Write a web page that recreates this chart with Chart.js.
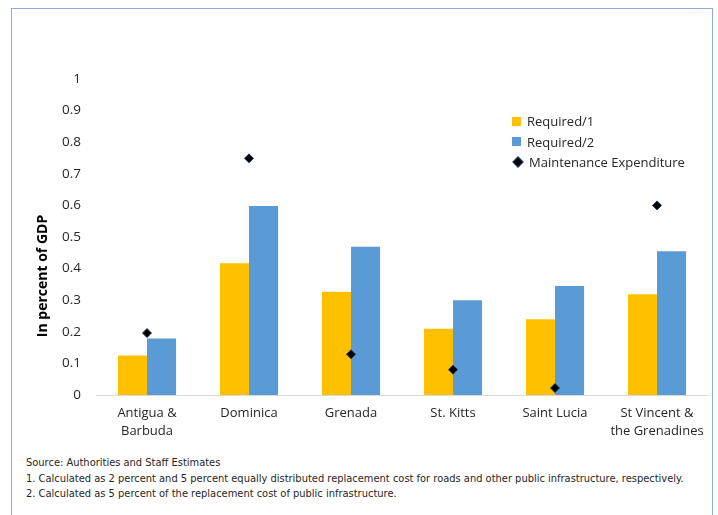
<!DOCTYPE html>
<html lang="en">
<head>
    <meta charset="UTF-8">
    <title>Required vs Maintenance Expenditure</title>
    <script src="https://cdn.jsdelivr.net/npm/chart.js"></script>
    <style>
        body {
            margin: 0;
            background-color: white;
            font-family: "Open Sans", sans-serif;
            color: #262626;
        }

        #frame {
            position: absolute;
            left: 11px;
            top: 8px;
            width: 702px;
            height: 560px;
            box-sizing: border-box;
            border: 1px solid #8faadc;
        }

        #wrap {
            position: absolute;
            left: 0;
            top: 0;
            width: 718px;
            height: 450px;
        }

        #legend {
            position: absolute;
            left: 512px;
            top: 111px;
            font-size: 13px;
        }

        .item {
            height: 20.5px;
            display: flex;
            align-items: center;
        }

        .box {
            width: 9px;
            height: 9px;
            margin-right: 6px;
        }

        .diamond {
            width: 6px;
            height: 6px;
            margin: 0 7px 0 2px;
            transform: rotate(45deg);
            background: black;
            border: 1px solid #1f3864;
        }

        #notes {
            position: absolute;
            left: 26px;
            top: 455px;
            font-family: "Liberation Sans Narrow", "DejaVu Sans Condensed", sans-serif;
            font-size: 11px;
            line-height: 15.5px;
        }
    </style>
</head>
<body>
    <div id="frame"></div>
    <div id="wrap"><canvas id="chart" width="718" height="450"></canvas></div>
    <div id="legend"></div>
    <div id="notes">
        Source: Authorities and Staff Estimates<br>
        1. Calculated as 2 percent and 5 percent equally distributed replacement cost for roads and other public infrastructure, respectively.<br>
        2. Calculated as 5 percent of the replacement cost of public infrastructure.
    </div>

    <script>
        const countries = [['Antigua &', 'Barbuda'], 'Dominica', 'Grenada', 'St. Kitts', 'Saint Lucia', ['St Vincent &', 'the Grenadines']];
        const required1 = [0.125, 0.417, 0.327, 0.21, 0.24, 0.319];
        const required2 = [0.179, 0.598, 0.469, 0.3, 0.345, 0.455];
        const maintenance = [0.196, 0.749, 0.129, 0.08, 0.022, 0.6];
        const yTitle = 'In percent of GDP';

        // y-axis title sits a bit below the middle in the original, so draw it ourselves
        const yTitlePlugin = {
            id: 'yTitle',
            afterDraw(chart) {
                const ctx = chart.ctx;
                ctx.save();
                ctx.translate(43, 276);
                ctx.rotate(-Math.PI / 2);
                ctx.font = 'bold 14px "Open Sans", sans-serif';
                ctx.fillStyle = '#000';
                ctx.textAlign = 'center';
                ctx.textBaseline = 'middle';
                ctx.fillText(yTitle, 0, 0);
                ctx.restore();
            }
        };

        const ctx = document.getElementById('chart').getContext('2d');
        const chart = new Chart(ctx, {
            type: 'bar',
            data: {
                labels: countries,
                datasets: [{
                    label: 'Required/1',
                    data: required1,
                    backgroundColor: '#ffc000',
                    order: 2
                }, {
                    label: 'Required/2',
                    data: required2,
                    backgroundColor: '#5b9bd5',
                    order: 2
                }, {
                    type: 'line',
                    label: 'Maintenance Expenditure',
                    data: maintenance,
                    showLine: false,
                    pointStyle: 'rectRot',
                    pointRadius: 4.5,
                    backgroundColor: '#000',
                    borderColor: '#1f3864',
                    borderWidth: 1,
                    order: 1
                }]
            },
            options: {
                responsive: false,
                animation: false,
                layout: { padding: { top: 79, right: 10, left: 0, bottom: 0 } },
                categoryPercentage: 0.57,
                barPercentage: 1,
                plugins: {
                    legend: { display: false },
                    tooltip: { enabled: false }
                },
                scales: {
                    x: {
                        afterFit: scale => { scale.height = 55; },
                        grid: { display: false, drawTicks: false },
                        border: { color: '#d9d9d9', width: 1 },
                        ticks: {
                            autoSkip: false,
                            padding: 9,
                            color: '#262626',
                            font: { family: '"Open Sans", sans-serif', size: 13, lineHeight: 1.4 },
                            maxRotation: 0
                        }
                    },
                    y: {
                        min: 0,
                        max: 1,
                        afterFit: scale => { scale.width = 96; },
                        grid: { display: false, drawTicks: false },
                        border: { display: false },
                        ticks: {
                            stepSize: 0.1,
                            padding: 15,
                            color: '#262626',
                            font: { family: '"Open Sans", sans-serif', size: 13.5 },
                            callback: v => Math.round(v * 10) / 10
                        }
                    }
                }
            },
            plugins: [yTitlePlugin]
        });

        // legend built from the chart datasets
        const legend = document.getElementById('legend');
        chart.data.datasets.forEach(ds => {
            const row = document.createElement('div');
            row.className = 'item';
            const mark = document.createElement('span');
            if (ds.type === 'line') {
                mark.className = 'diamond';
            } else {
                mark.className = 'box';
                mark.style.background = ds.backgroundColor;
            }
            row.appendChild(mark);
            row.appendChild(document.createTextNode(ds.label));
            legend.appendChild(row);
        });
    </script>
</body>
</html>
